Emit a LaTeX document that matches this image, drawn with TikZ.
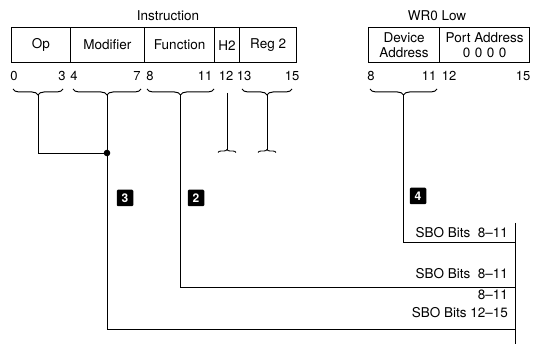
\documentclass[tikz,border=0pt]{standalone}
\usepackage{fontspec}
\setmainfont{TeX Gyre Heros}
\usetikzlibrary{decorations.pathreplacing}
\begin{document}
\begin{tikzpicture}[x=1pt,y=-1pt,
  txt/.style={font=\fontsize{13.5}{15}\selectfont},
  field/.style={draw, line width=1.2pt, minimum height=35pt, inner sep=0pt, anchor=north west, align=center, txt},
  bitno/.style={inner sep=0pt, font=\fontsize{13}{13}\selectfont},
  br/.style={decorate, decoration={brace, mirror, amplitude=6pt}, line width=1pt},
  curl/.style={decorate, decoration={brace, amplitude=3pt}, line width=0.9pt},
  wire/.style={line width=0.9pt},
  badge/.style={fill=black, text=white, rounded corners=1.2pt, minimum size=16.5pt, inner sep=0pt, font=\bfseries\fontsize{12}{12}\selectfont},
  lab/.style={anchor=east, inner sep=0pt, txt}]
\useasboundingbox (0,0) rectangle (533,344);

% titles
\node[txt] (tinstr) at (168,16) {Instruction};
\node[txt] (twr) at (437,16) {WR0 Low};

% instruction fields
\node[field, minimum width=58.5pt] (op)  at (11,27)   {Op};
\node[field, minimum width=74.5pt] (mod) at (69.5,27) {Modifier};
\node[field, minimum width=70pt]   (fun) at (144,27)  {Function};
\node[field, minimum width=25pt]   (h2)  at (214,27)  {H2};
\node[field, minimum width=57pt]   (reg) at (239,27)  {Reg 2};

% WR0 fields
\node[field, minimum width=71pt] (dev)  at (368,27) {Device\\Address};
\node[field, minimum width=90pt] (port) at (439,27) {Port Address\\0\hspace{4.5pt}0\hspace{4.5pt}0\hspace{4.5pt}0};

% bit numbers
\node[bitno] (b0)  at (14,76)  {0};
\node[bitno] (b3)  at (62,76)  {3};
\node[bitno] (b4)  at (74,76)  {4};
\node[bitno] (b7)  at (137,76) {7};
\node[bitno] (b8)  at (150,76) {8};
\node[bitno] (b11) at (205,76) {11};
\node[bitno] (b12) at (226,76) {12};
\node[bitno] (b13) at (244,76) {13};
\node[bitno] (b15) at (292,76) {15};
\node[bitno] (w8)  at (371,76) {8};
\node[bitno] (w11) at (429,76) {11};
\node[bitno] (w12) at (449,76) {12};
\node[bitno] (w15) at (523,76) {15};

% braces
\draw[br] (13,89) -- (63,89);
\draw[br] (73,89) -- (141,89);
\draw[br] (147,89) -- (214,89);
\draw[br] (242,89) -- (292,89);
\draw[br] (370,89) -- (437,89);

% brace tips and ends
\coordinate (t1) at (38,95);
\coordinate (t2) at (107,95);
\coordinate (t3) at (180.5,95);
\coordinate (th) at (227,93);
\coordinate (tr) at (267,95);
\coordinate (t4) at (403.5,95);
\coordinate (j)  at (107,153);
\coordinate (hb) at (227,150);
\coordinate (rb) at (267,150);
\coordinate (e4) at (515,242);
\coordinate (e3) at (515,287);
\coordinate (e2) at (515,329);
\coordinate (r1) at (515,223);
\coordinate (r2) at (515,344);

% connectors
\draw[wire] (t1) |- (j);
\draw[wire] (t2) |- (e2);
\draw[wire] (t3) |- (e3);
\draw[wire] (t4) |- (e4);
\draw[wire] (r1) -- (r2);
\draw[wire] (th) -- (hb);
\draw[wire] (tr) -- (rb);
\fill (j) circle (3.3pt);

% bottom curls
\draw[curl] (218,152.5) -- (236,152.5);
\draw[curl] (258,152.5) -- (276,152.5);

% badges
\node[badge] (n3) at (125,198) {3};
\node[badge] (n2) at (196,198) {2};
\node[badge] (n4) at (418,196) {4};

% labels
\node[lab] (l4)  at (508,232.5) {SBO Bits\ \ 8--11};
\node[lab] (l2)  at (508,274)   {SBO Bits\ \ 8--11};
\node[lab] (l3a) at (508,294.5) {8--11};
\node[lab] (l3b) at (508,312.5) {SBO Bits 12--15};
\end{tikzpicture}
\end{document}
